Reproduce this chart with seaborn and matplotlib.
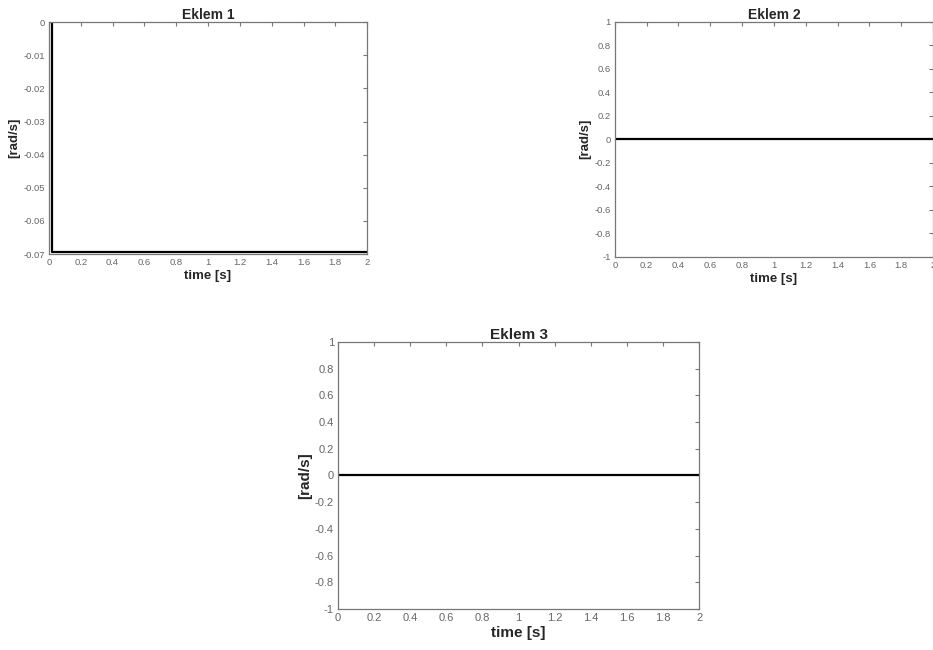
import matplotlib
matplotlib.use("Agg")
import matplotlib.pyplot as plt
import seaborn as sns
import pandas as pd

# joint velocities over time
t1 = [0.0, 0.02, 0.02, 2.0]
w1 = [0.0, 0.0, -0.0693, -0.0693]
t2 = [0.0, 2.0]
w2 = [0.0, 0.0]
t3 = [0.0, 2.0]
w3 = [0.0, 0.0]

titles = ["Eklem 1", "Eklem 2", "Eklem 3"]
xticks = [0, 0.2, 0.4, 0.6, 0.8, 1, 1.2, 1.4, 1.6, 1.8, 2]
xticklabels = ["0", "0.2", "0.4", "0.6", "0.8", "1", "1.2", "1.4", "1.6", "1.8", "2"]
yticks1 = [-0.07, -0.06, -0.05, -0.04, -0.03, -0.02, -0.01, 0]
ylabels1 = ["-0.07", "-0.06", "-0.05", "-0.04", "-0.03", "-0.02", "-0.01", "0"]
yticks23 = [-1, -0.8, -0.6, -0.4, -0.2, 0, 0.2, 0.4, 0.6, 0.8, 1]
ylabels23 = ["-1", "-0.8", "-0.6", "-0.4", "-0.2", "0", "0.2", "0.4", "0.6", "0.8", "1"]

sns.set_theme(style="white")
plt.rcParams["font.family"] = ["Liberation Sans", "DejaVu Sans"]
plt.rcParams["xtick.direction"] = "in"
plt.rcParams["ytick.direction"] = "in"

fig = plt.figure(figsize=(9.33, 6.5), dpi=100)
positions = [
    [0.0525, 0.609, 0.341, 0.357],
    [0.659, 0.605, 0.341, 0.3615],
    [0.3623, 0.0631, 0.387, 0.4108],
]
# tick, title, axis-label sizes (top pair is drawn a bit smaller)
sizes = [(6.8, 10, 9.5), (6.8, 10, 9.5), (8, 11, 11)]
series = [(t1, w1), (t2, w2), (t3, w3)]

for i, (pos, (t, w)) in enumerate(zip(positions, series)):
    tsz, ttl, lsz = sizes[i]
    ax = fig.add_axes(pos)
    df = pd.DataFrame({"time": t, "w": w})
    sns.lineplot(data=df, x="time", y="w", ax=ax, color="black", linewidth=1.6,
                 estimator=None, sort=False)
    ax.set_xlim(0, 2)
    ax.set_xticks(xticks)
    ax.set_xticklabels(xticklabels)
    if i == 0:
        ax.set_ylim(-0.07, 0)
        ax.set_yticks(yticks1)
        ax.set_yticklabels(ylabels1)
    else:
        ax.set_ylim(-1, 1)
        ax.set_yticks(yticks23)
        ax.set_yticklabels(ylabels23)
    ax.tick_params(axis="both", which="both", labelsize=tsz, labelcolor="#666666",
                   color="#777777", length=3, width=0.8, pad=3,
                   top=True, right=True)
    for s in ax.spines.values():
        s.set_color("#777777")
        s.set_linewidth(0.9)
    ax.set_title(titles[i], fontsize=ttl, fontweight="bold", pad=2)
    ax.set_xlabel("time [s]", fontsize=lsz, fontweight="bold", labelpad=2)
    ax.set_ylabel("[rad/s]", fontsize=lsz, fontweight="bold", labelpad=2)

plt.savefig("out.png", dpi=100)
